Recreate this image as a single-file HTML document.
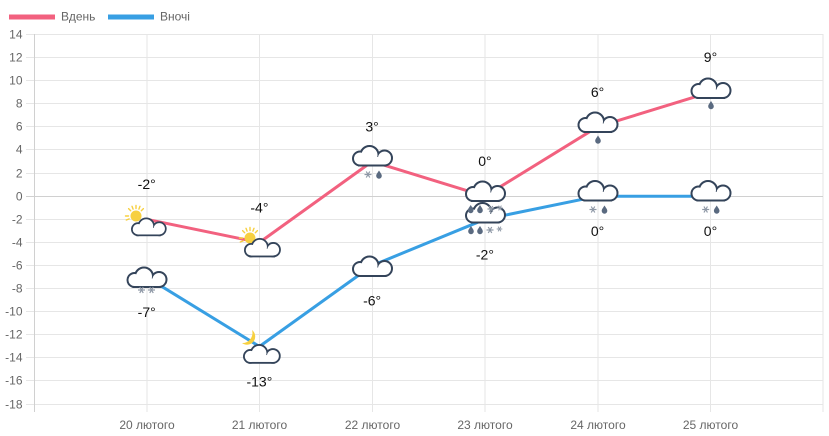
<!DOCTYPE html>
<html><head><meta charset="utf-8"><style>
html,body{margin:0;padding:0;background:#fff;}
svg{display:block;}
.tk{font-family:"Liberation Sans","Noto Sans CJK SC",sans-serif;font-size:12px;fill:#666;}
.lb{font-family:"Liberation Sans","Noto Sans CJK SC",sans-serif;font-size:14px;fill:#111;text-anchor:middle;}
</style></head><body>
<svg width="829" height="436" viewBox="0 0 829 436" xmlns="http://www.w3.org/2000/svg">
<defs>
  <g id="cl">
    <g fill="#34445a" stroke="#34445a" stroke-width="4">
      <circle cx="8" cy="13.5" r="6"/><circle cx="17.5" cy="10" r="8"/><circle cx="32.5" cy="13" r="6.5"/><rect x="8" y="12" width="24.5" height="7.5"/>
    </g>
    <g fill="#fff">
      <circle cx="8" cy="13.5" r="6"/><circle cx="17.5" cy="10" r="8"/><circle cx="32.5" cy="13" r="6.5"/><rect x="8" y="12" width="24.5" height="7.5"/>
    </g>
  </g>
  <path id="dr" d="M0,-4 C1.3,-1.8 2.8,-0.3 2.8,1.4 A2.8,2.8 0 0 1 -2.8,1.4 C-2.8,-0.3 -1.3,-1.8 0,-4Z" fill="#5a6a80"/>
  <g id="sn" stroke="#8e98a6" stroke-width="1.2" fill="none">
    <line x1="-3.5" y1="0" x2="3.5" y2="0"/><line x1="-1.75" y1="-3" x2="1.75" y2="3"/><line x1="-1.75" y1="3" x2="1.75" y2="-3"/>
  </g>
  <g id="sun">
    <g stroke="#f7d040" stroke-width="1.4" stroke-linecap="round">
      <line x1="0" y1="-7.5" x2="0" y2="-10.5"/>
      <line x1="-5.3" y1="-5.3" x2="-7.4" y2="-7.4"/>
      <line x1="5.3" y1="-5.3" x2="7.4" y2="-7.4"/>
      <line x1="-7.5" y1="0" x2="-10.5" y2="0"/>
      <line x1="-6.9" y1="2.9" x2="-9.7" y2="4"/>
      <line x1="-2.9" y1="-6.9" x2="-4" y2="-9.7"/>
      <line x1="2.9" y1="-6.9" x2="4" y2="-9.7"/>
    </g>
    <circle r="5.5" fill="#f7d040"/>
  </g>
</defs>

<!-- grid -->
<g stroke="#e6e6e6" stroke-width="1">
  <line x1="26" y1="34.5" x2="823" y2="34.5"/>
  <line x1="26" y1="57.5" x2="823" y2="57.5"/>
  <line x1="26" y1="80.5" x2="823" y2="80.5"/>
  <line x1="26" y1="103.5" x2="823" y2="103.5"/>
  <line x1="26" y1="126.5" x2="823" y2="126.5"/>
  <line x1="26" y1="149.5" x2="823" y2="149.5"/>
  <line x1="26" y1="173.5" x2="823" y2="173.5"/>
  <line x1="26" y1="219.5" x2="823" y2="219.5"/>
  <line x1="26" y1="242.5" x2="823" y2="242.5"/>
  <line x1="26" y1="265.5" x2="823" y2="265.5"/>
  <line x1="26" y1="288.5" x2="823" y2="288.5"/>
  <line x1="26" y1="311.5" x2="823" y2="311.5"/>
  <line x1="26" y1="334.5" x2="823" y2="334.5"/>
  <line x1="26" y1="357.5" x2="823" y2="357.5"/>
  <line x1="26" y1="380.5" x2="823" y2="380.5"/>
  <line x1="26" y1="404.5" x2="823" y2="404.5"/>
  <line x1="147" y1="34" x2="147" y2="412"/>
  <line x1="259.5" y1="34" x2="259.5" y2="412"/>
  <line x1="372.5" y1="34" x2="372.5" y2="412"/>
  <line x1="485" y1="34" x2="485" y2="412"/>
  <line x1="598" y1="34" x2="598" y2="412"/>
  <line x1="710.5" y1="34" x2="710.5" y2="412"/>
  <line x1="823" y1="34" x2="823" y2="412"/>
</g>
<g stroke="#d0d0d0" stroke-width="1">
  <line x1="26" y1="196.5" x2="823" y2="196.5"/>
  <line x1="34.5" y1="34" x2="34.5" y2="412"/>
</g>

<!-- y ticks -->
<g class="tk" text-anchor="end">
  <text x="22.5" y="38.5">14</text>
  <text x="22.5" y="61.5">12</text>
  <text x="22.5" y="84.5">10</text>
  <text x="22.5" y="107.5">8</text>
  <text x="22.5" y="130.5">6</text>
  <text x="22.5" y="153.5">4</text>
  <text x="22.5" y="177.5">2</text>
  <text x="22.5" y="200.5">0</text>
  <text x="22.5" y="223.5">-2</text>
  <text x="22.5" y="246.5">-4</text>
  <text x="22.5" y="269.5">-6</text>
  <text x="22.5" y="292.5">-8</text>
  <text x="22.5" y="315.5">-10</text>
  <text x="22.5" y="338.5">-12</text>
  <text x="22.5" y="361.5">-14</text>
  <text x="22.5" y="384.5">-16</text>
  <text x="22.5" y="408.5">-18</text>
</g>
<!-- x ticks -->
<g class="tk" text-anchor="middle">
  <text x="147" y="429">20 лютого</text>
  <text x="259.5" y="429">21 лютого</text>
  <text x="372.5" y="429">22 лютого</text>
  <text x="485" y="429">23 лютого</text>
  <text x="598" y="429">24 лютого</text>
  <text x="710.5" y="429">25 лютого</text>
</g>

<!-- legend -->
<rect x="9" y="14.5" width="46" height="5" fill="#f2617f"/>
<text class="tk" x="61" y="20.5">Вдень</text>
<rect x="108" y="14.5" width="46" height="5" fill="#389fe3"/>
<text class="tk" x="160" y="20.5">Вночі</text>

<!-- lines -->
<polyline fill="none" stroke="#389fe3" stroke-width="3" stroke-linejoin="round" points="146.7,277.2 259.4,346.5 372.1,265.6 484.9,219.3 597.6,196.2 710.3,196.2"/>
<polyline fill="none" stroke="#f2617f" stroke-width="3" stroke-linejoin="round" points="146.7,219.3 259.4,242.5 372.1,161.5 484.9,196.2 597.6,126.8 710.3,92.2"/>

<!-- night icons -->
<use href="#cl" transform="translate(126.5,266.5)"/>
<use href="#sn" transform="translate(141.5,290)"/>
<use href="#sn" transform="translate(151.5,290)"/>

<path d="M252,330 A8,8 0 1 1 242,343 A10,10 0 0 0 252,330Z" fill="#f7d040"/>
<use href="#cl" transform="translate(243,344) scale(0.92)"/>

<use href="#cl" transform="translate(352,255.5)"/>

<use href="#cl" transform="translate(465,202)"/>
<use href="#dr" transform="translate(471,230)"/>
<use href="#dr" transform="translate(480,230)"/>
<use href="#sn" transform="translate(490,230)"/>
<use href="#sn" transform="translate(499.5,229) scale(0.8)"/>

<use href="#cl" transform="translate(577.5,180)"/>
<use href="#sn" transform="translate(593,209.5)"/>
<use href="#dr" transform="translate(604.5,209.5)"/>

<use href="#cl" transform="translate(690.5,180)"/>
<use href="#sn" transform="translate(705.7,209.5)"/>
<use href="#dr" transform="translate(716.7,209.5)"/>

<!-- day icons -->
<use href="#sun" transform="translate(136,216)"/>
<use href="#cl" transform="translate(131,217.5) scale(0.87)"/>

<use href="#sun" transform="translate(250,238)"/>
<use href="#cl" transform="translate(244,238) scale(0.9)"/>

<use href="#cl" transform="translate(352,145)"/>
<use href="#sn" transform="translate(368,174.5)"/>
<use href="#dr" transform="translate(379,174.5)"/>

<use href="#cl" transform="translate(465,180.5)"/>
<use href="#dr" transform="translate(470.7,209)"/>
<use href="#dr" transform="translate(480,209)"/>
<use href="#sn" transform="translate(491,209)"/>
<use href="#sn" transform="translate(500,208) scale(0.8)"/>

<use href="#cl" transform="translate(577.5,111.5)"/>
<use href="#dr" transform="translate(598,139.5)"/>

<use href="#cl" transform="translate(690.5,77.5)"/>
<use href="#dr" transform="translate(711,105)"/>

<!-- labels -->
<g class="lb">
  <text x="146.7" y="189">-2°</text>
  <text x="259.4" y="212.5">-4°</text>
  <text x="372.1" y="131.5">3°</text>
  <text x="484.9" y="166">0°</text>
  <text x="597.6" y="97">6°</text>
  <text x="710.5" y="62">9°</text>
  <text x="146.7" y="317">-7°</text>
  <text x="259.4" y="386.5">-13°</text>
  <text x="372.1" y="305.5">-6°</text>
  <text x="484.9" y="259.5">-2°</text>
  <text x="597.6" y="236">0°</text>
  <text x="710.5" y="236">0°</text>
</g>
</svg>
</body></html>
